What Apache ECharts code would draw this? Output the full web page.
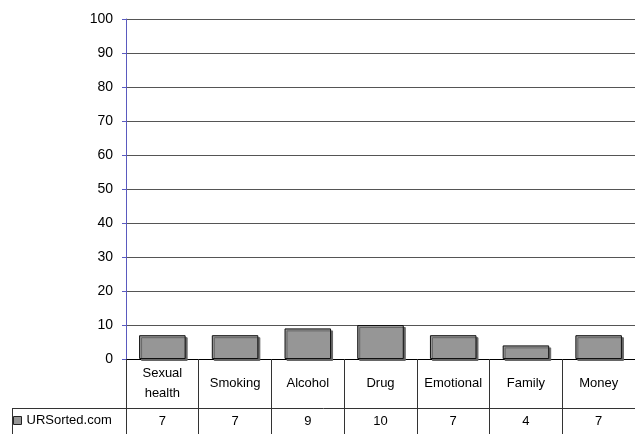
<!DOCTYPE html>
<html>
<head>
<meta charset="utf-8">
<script src="https://cdn.jsdelivr.net/npm/echarts@6/dist/echarts.min.js"></script>
<style>
  html, body { margin: 0; padding: 0; background: #fff; }
  #chart { width: 635px; height: 434px; }
</style>
</head>
<body>
<div id="chart"></div>
<script>
const categories = ['Sexual health', 'Smoking', 'Alcohol', 'Drug', 'Emotional', 'Family', 'Money']
const values = [7, 7, 9, 10, 7, 4, 7]
const seriesName = 'URSorted.com'
const yTicks = { min: 0, max: 100, interval: 10 }

const font = "'Liberation Sans', Arial, sans-serif"
const chart = echarts.init(document.getElementById('chart'))
chart.setOption({
  animation: false,
  textStyle: { fontFamily: font },
  grid: { left: 126, top: 19, bottom: 75, right: -1, containLabel: false },
  legend: {
    data: [seriesName],
    left: 13,
    top: 414,
    icon: 'rect',
    itemWidth: 8,
    itemHeight: 8,
    itemGap: 5,
    padding: 0,
    textStyle: { fontSize: 13, color: '#000', fontFamily: font },
    itemStyle: { borderColor: '#222', borderWidth: 1 }
  },
  xAxis: [{
    type: 'category',
    data: categories,
    axisLine: { lineStyle: { color: '#000', width: 1 } },
    axisTick: { show: true, interval: 0, length: 80, alignWithLabel: false, lineStyle: { color: '#333' } }, // 表格竖线
    axisLabel: {
      interval: 0,
      margin: 24,
      verticalAlign: 'middle',
      fontSize: 13,
      lineHeight: 20,
      color: '#000',
      fontFamily: font,
      formatter: v => v.replace(' ', '\n')
    }
  }, {
    // 数据表第二行
    type: 'category',
    position: 'bottom',
    offset: 0,
    data: values.map(String),
    axisLine: { show: false },
    axisTick: { show: false },
    axisLabel: { interval: 0, margin: 62, verticalAlign: 'middle', fontSize: 13, color: '#000', fontFamily: font }
  }],
  yAxis: {
    type: 'value',
    min: yTicks.min,
    max: yTicks.max,
    interval: yTicks.interval,
    axisLine: { show: true, lineStyle: { color: '#5a5abf' } },
    axisTick: { show: true, length: 4, lineStyle: { color: '#5a5abf' } },
    axisLabel: { margin: 13, fontSize: 14, color: '#000', fontFamily: font },
    splitLine: { show: true, lineStyle: { color: '#555', width: 1 } }
  },
  graphic: [
    { type: 'line', shape: { x1: 12, y1: 408.5, x2: 635, y2: 408.5 }, style: { stroke: '#333', lineWidth: 1 } },
    { type: 'line', shape: { x1: 12.5, y1: 408, x2: 12.5, y2: 434 }, style: { stroke: '#333', lineWidth: 1 } }
  ],
  series: [{
    name: seriesName,
    type: 'bar',
    xAxisIndex: 0,
    data: values,
    barWidth: '64%',
    itemStyle: {
      color: '#969696',
      borderColor: '#111',
      borderWidth: 1,
      shadowColor: '#666',
      shadowOffsetX: 2,
      shadowOffsetY: 2,
      shadowBlur: 0
    }
  }]
})
</script>
</body>
</html>
